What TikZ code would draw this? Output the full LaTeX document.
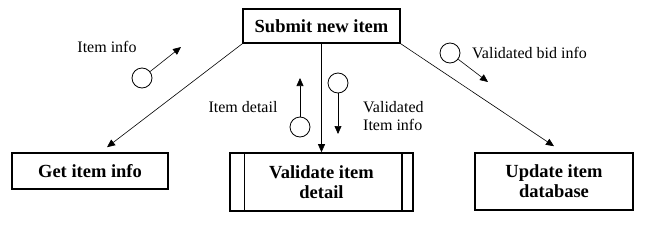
\documentclass[tikz,border=0pt]{standalone}
\usepackage{fontspec}
\setmainfont{Liberation Serif}
\usetikzlibrary{arrows.meta}

\tikzset{
    procbox/.style={draw, line width=1.6pt, align=center, font=\fontsize{18.5}{20}\selectfont\bfseries, inner sep=0pt},
    couple/.style={draw, circle, line width=0.8pt, minimum size=20pt, inner sep=0pt},
    flow/.style={-{Triangle[length=8pt,width=7pt]}, line width=0.6pt},
    lbl/.style={font=\fontsize{16}{18}\selectfont, inner sep=0pt, align=left}
}

\begin{document}
\begin{tikzpicture}[x=1pt, y=-1pt]
    \useasboundingbox (0,0) rectangle (650,225);

    % Module boxes
    \node[procbox, minimum width=157pt, minimum height=34pt] (submit) at (321.5,26) {Submit new item};
    \node[procbox, minimum width=156pt, minimum height=36pt] (get) at (90,171) {Get item info};
    \node[procbox, minimum width=183pt, minimum height=58pt] (validate) at (321.5,182) {Validate item\\detail};
    \node[procbox, minimum width=158pt, minimum height=57pt] (update) at (554,181.5) {Update item\\database};

    % Library module side bars
    \draw[line width=1.4pt] ([xshift=15pt]validate.north west) -- ([xshift=15pt]validate.south west);
    \draw[line width=1.4pt] ([xshift=-12pt]validate.north east) -- ([xshift=-12pt]validate.south east);

    % Calls
    \draw[flow] (submit.south west) -- ([xshift=17pt,yshift=5pt]get.north);
    \draw[flow] (submit.south) -- (validate.north);
    \draw[flow] (submit.south east) -- ([yshift=6pt]update.north);

    % Data couples
    \node[couple] (c1) at (142,78) {};
    \coordinate (t1) at (181,47);
    \draw[flow] (c1) -- (t1);
    \node[lbl] (l1) at (107,47) {Item info};

    \node[couple] (c2) at (300,127) {};
    \coordinate (t2) at (300,78);
    \draw[flow] (c2) -- (t2);
    \node[lbl] (l2) at (243,107) {Item detail};

    \node[couple] (c3) at (338,83) {};
    \coordinate (t3) at (338,134);
    \draw[flow] (c3) -- (t3);
    \node[lbl, anchor=west] (l3) at (363,116) {Validated\\Item info};

    \node[couple] (c4) at (450,53) {};
    \coordinate (t4) at (488,82);
    \draw[flow] (c4) -- (t4);
    \node[lbl, anchor=west] (l4) at (472,53) {Validated bid info};
\end{tikzpicture}
\end{document}
